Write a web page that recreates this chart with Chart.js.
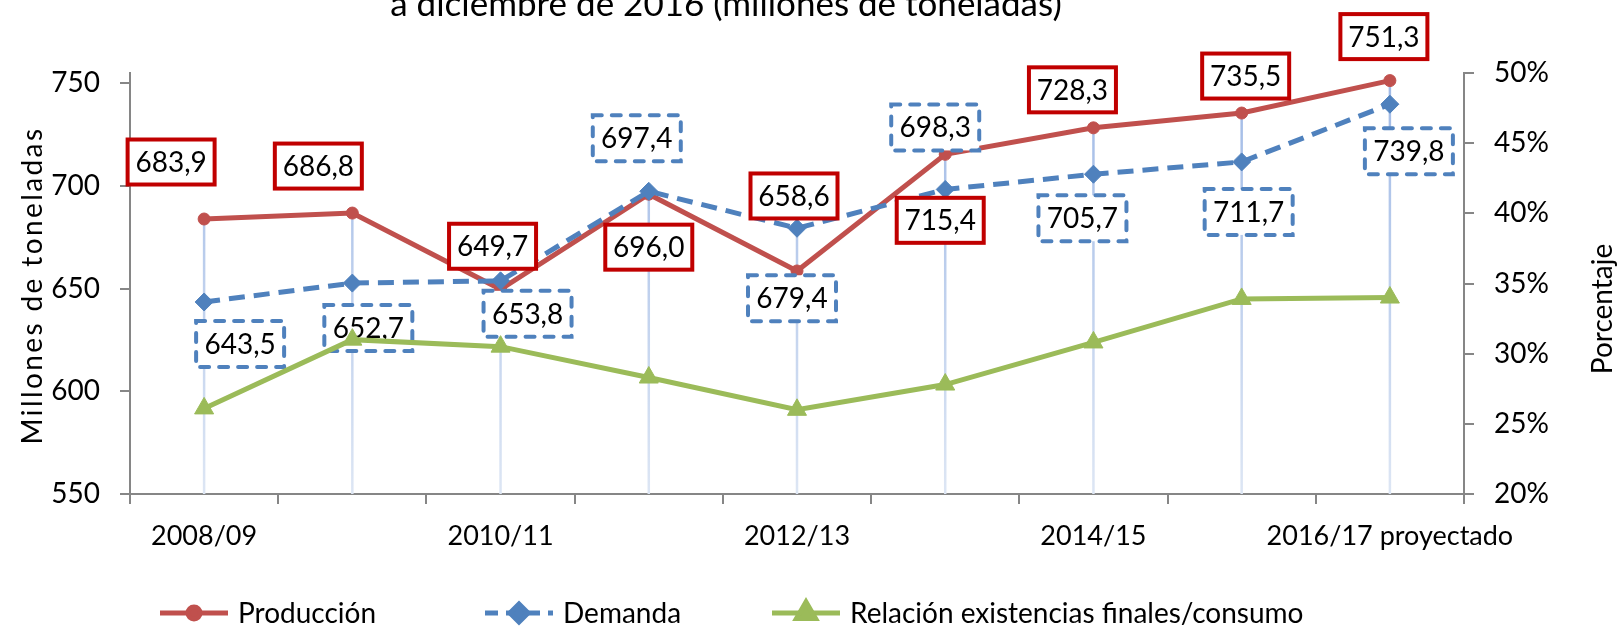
<!DOCTYPE html>
<html>
<head>
<meta charset="utf-8">
<script src="https://cdn.jsdelivr.net/npm/chart.js@4/dist/chart.umd.min.js"></script>
<style>
  html, body { margin: 0; padding: 0; background: #fff; }
  #wrap { position: relative; width: 1618px; height: 626px; }
</style>
</head>
<body>
<div id="wrap"><canvas id="myChart"></canvas></div>
<script>
// data
var categories = ['2008/09', '2009/10', '2010/11', '2011/12', '2012/13', '2013/14', '2014/15', '2015/16', '2016/17 proyectado'];
var produccion = [683.9, 686.8, 649.7, 696.0, 658.6, 715.4, 728.3, 735.5, 751.3];
var demanda = [643.5, 652.7, 653.8, 697.4, 679.4, 698.3, 705.7, 711.7, 739.8];
var relacion = [26.1, 31.0, 30.5, 28.3, 26.0, 27.8, 30.8, 33.9, 34.0];
var leftTicks = [550, 600, 650, 700, 750];
var rightTicks = [20, 25, 30, 35, 40, 45, 50];

// where each data label box sits, relative to its point (px)
var prodLabelOffsets = [[-33, -57], [-34, -47], [-8, -43], [0, 53], [-3, -75], [-5, 66], [-21, -38], [4, -37], [-6, -44]];
var demLabelOffsets = [[36, 42], [16, 45], [27, 33], [-12, -53], [-5, 70], [-10, -62], [-11, 44], [7, 50], [19, 47]];

var RED = '#C0504D', BLUE = '#4F81BD', GREEN = '#9BBB59', AXIS = '#868686';
var FONT = 'Lato, "Open Sans", sans-serif';

function fmt(v) { return v.toFixed(1).replace('.', ','); }

// light blue drop lines from the highest point down to the axis
var dropLines = {
    id: 'dropLines',
    beforeDatasetsDraw: function (chart) {
        var ctx = chart.ctx, area = chart.chartArea;
        var m0 = chart.getDatasetMeta(0).data, m1 = chart.getDatasetMeta(1).data;
        var grad = ctx.createLinearGradient(0, area.top, 0, area.bottom);
        grad.addColorStop(0, '#9fb9e6');
        grad.addColorStop(1, '#dde6f4');
        ctx.save();
        ctx.strokeStyle = grad;
        ctx.lineWidth = 2.5;
        for (var i = 0; i < m0.length; i++) {
            var top = Math.min(m0[i].y, m1[i].y);
            ctx.beginPath();
            ctx.moveTo(m0[i].x, top);
            ctx.lineTo(m0[i].x, area.bottom);
            ctx.stroke();
        }
        ctx.restore();
    }
};

function drawBoxes(chart, dsIndex, values, offsets, color, dashed) {
    var ctx = chart.ctx;
    var pts = chart.getDatasetMeta(dsIndex).data;
    ctx.save();
    ctx.font = '28px ' + FONT;
    ctx.textAlign = 'center';
    ctx.textBaseline = 'middle';
    for (var i = 0; i < pts.length; i++) {
        var cx = pts[i].x + offsets[i][0], cy = pts[i].y + offsets[i][1];
        var w = dashed ? 88 : 87, h = dashed ? 46 : 45;
        ctx.fillStyle = '#fff';
        ctx.fillRect(cx - w / 2, cy - h / 2, w, h);
        ctx.strokeStyle = color;
        ctx.lineWidth = 4;
        ctx.lineCap = dashed ? 'round' : 'butt';
        ctx.setLineDash(dashed ? [9, 10] : []);
        ctx.strokeRect(cx - w / 2, cy - h / 2, w, h);
        ctx.fillStyle = '#000';
        ctx.fillText(fmt(values[i]), cx, cy + 1);
    }
    ctx.restore();
}

// labels go on after the blue series, so the green line still passes over them
var dataLabels = {
    id: 'dataLabels',
    afterDatasetDraw: function (chart, args) {
        if (args.index !== 1) return;
        drawBoxes(chart, 0, produccion, prodLabelOffsets, '#C00000', false);
        drawBoxes(chart, 1, demanda, demLabelOffsets, BLUE, true);
    }
};

function legendMarker(ctx, style, color, x, y) {
    var r = style === 'circle' ? 6 : (style === 'rectRot' ? 9 : 11);
    ctx.fillStyle = color;
    ctx.strokeStyle = color;
    Chart.helpers.drawPoint(ctx, { pointStyle: style, rotation: 0, borderWidth: 1, radius: r }, x, y);
}

// title (only its second line shows in the crop), axis titles and legend
var extras = {
    id: 'extras',
    afterDraw: function (chart) {
        var ctx = chart.ctx, area = chart.chartArea;
        ctx.save();
        ctx.fillStyle = '#000';
        ctx.font = '35px ' + FONT;
        ctx.textAlign = 'center';
        ctx.textBaseline = 'alphabetic';
        ctx.fillText('a diciembre de 2016 (millones de toneladas)', 726, 16);

        ctx.font = '28px ' + FONT;
        ctx.textBaseline = 'middle';
        ctx.save();
        ctx.translate(33, (area.top + area.bottom) / 2 + 2);
        ctx.rotate(-Math.PI / 2);
        ctx.letterSpacing = '2.4px';
        ctx.fillText('Millones de toneladas', 0, 0);
        ctx.restore();

        ctx.save();
        ctx.translate(1603, 309);
        ctx.rotate(-Math.PI / 2);
        ctx.fillText('Porcentaje', 0, 0);
        ctx.restore();

        var items = [
            { x: 160, text: 'Producción', color: RED, dash: [], style: 'circle' },
            { x: 485, text: 'Demanda', color: BLUE, dash: [13, 8], style: 'rectRot' },
            { x: 772, text: 'Relación existencias finales/consumo', color: GREEN, dash: [], style: 'triangle' }
        ];
        var y = 613;
        ctx.textAlign = 'left';
        items.forEach(function (it) {
            ctx.strokeStyle = it.color;
            ctx.lineWidth = 5;
            ctx.setLineDash(it.dash);
            ctx.beginPath();
            ctx.moveTo(it.x, y);
            ctx.lineTo(it.x + 68, y);
            ctx.stroke();
            ctx.setLineDash([]);
            legendMarker(ctx, it.style, it.color, it.x + 34, y);
            ctx.beginPath();
            ctx.fillStyle = '#000';
            ctx.fillText(it.text, it.x + 78, y + 1);
        });
        ctx.restore();
    }
};

var ctx = document.getElementById('myChart').getContext('2d');
var myChart = new Chart(ctx, {
    type: 'line',
    data: {
        labels: categories,
        datasets: [{
            label: 'Producción',
            data: produccion,
            yAxisID: 'y',
            borderColor: RED,
            backgroundColor: RED,
            borderWidth: 5,
            pointStyle: 'circle',
            pointRadius: 6,
            pointBorderWidth: 1,
            tension: 0,
            order: 3
        }, {
            label: 'Demanda',
            data: demanda,
            yAxisID: 'y',
            borderColor: BLUE,
            backgroundColor: BLUE,
            borderWidth: 5,
            borderDash: [16, 9],
            pointStyle: 'rectRot',
            pointRadius: 9,
            pointBorderWidth: 1,
            tension: 0,
            order: 2
        }, {
            label: 'Relación existencias finales/consumo',
            data: relacion,
            yAxisID: 'y1',
            borderColor: GREEN,
            backgroundColor: GREEN,
            borderWidth: 5,
            pointStyle: 'triangle',
            pointRadius: 11,
            pointBorderWidth: 1,
            tension: 0,
            order: 1
        }]
    },
    options: {
        responsive: true,
        maintainAspectRatio: false,
        animation: false,
        layout: { padding: { top: 73, left: 0, right: 0, bottom: 0 } },
        plugins: {
            legend: { display: false },
            title: { display: false },
            tooltip: { enabled: true }
        },
        scales: {
            x: {
                offset: true,
                grid: { offset: true, drawOnChartArea: false, tickLength: 10, color: AXIS, lineWidth: 2 },
                border: { color: AXIS, width: 2 },
                ticks: {
                    autoSkip: false,
                    maxRotation: 0,
                    padding: 16,
                    color: '#000',
                    font: { family: FONT, size: 27 },
                    callback: function (v, i) { return i % 2 === 0 ? categories[i] : ''; }
                },
                afterFit: function (s) { s.height = 132; }
            },
            y: {
                position: 'left',
                min: 550,
                max: 755,
                afterBuildTicks: function (s) { s.ticks = leftTicks.map(function (v) { return { value: v }; }); },
                grid: { drawOnChartArea: false, tickLength: 10, color: AXIS, lineWidth: 2 },
                border: { color: AXIS, width: 2 },
                ticks: { padding: 20, color: '#000', font: { family: FONT, size: 28 } },
                afterFit: function (s) { s.width = 130; }
            },
            y1: {
                position: 'right',
                min: 20,
                max: 50,
                afterBuildTicks: function (s) { s.ticks = rightTicks.map(function (v) { return { value: v }; }); },
                grid: { drawOnChartArea: false, tickLength: 10, color: AXIS, lineWidth: 2 },
                border: { color: AXIS, width: 2 },
                ticks: {
                    padding: 20, color: '#000', font: { family: FONT, size: 28 },
                    callback: function (v) { return v + '%'; }
                },
                afterFit: function (s) { s.width = 154; }
            }
        }
    },
    plugins: [dropLines, dataLabels, extras]
});
</script>
</body>
</html>
